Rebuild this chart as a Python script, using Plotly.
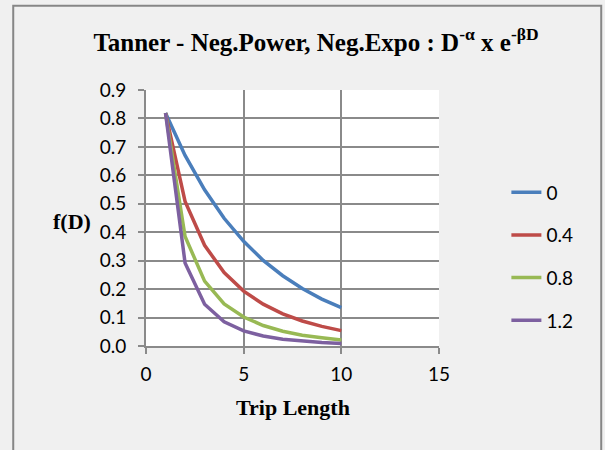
import plotly.graph_objects as go

# Data
trip_length = [1, 2, 3, 4, 5, 6, 7, 8, 9, 10]
alpha_labels = ["0", "0.4", "0.8", "1.2"]
f_alpha_0 = [0.819, 0.670, 0.549, 0.449, 0.368, 0.301, 0.247, 0.202, 0.165, 0.135]
f_alpha_04 = [0.819, 0.508, 0.354, 0.258, 0.193, 0.147, 0.113, 0.088, 0.069, 0.054]
f_alpha_08 = [0.819, 0.385, 0.228, 0.148, 0.102, 0.072, 0.052, 0.038, 0.029, 0.021]
f_alpha_12 = [0.819, 0.292, 0.147, 0.085, 0.053, 0.035, 0.024, 0.017, 0.012, 0.009]
series_values = [f_alpha_0, f_alpha_04, f_alpha_08, f_alpha_12]
colors = ["#4A7EBB", "#BE4B48", "#98B954", "#7D60A0"]

W, H = 605, 450
L, R, T, B = 146, 439.5, 89.5, 346
grid = "#8a8a8a"

fig = go.Figure()
for name, vals, c in zip(alpha_labels, series_values, colors):
    fig.add_trace(go.Scatter(
        x=trip_length, y=vals, name=name, mode="lines",
        line=dict(color=c, width=3.5), legendgroup=name,
    ))

def px_x(p):
    return (p - L) / (R - L)

def px_y(p):
    return (B - p) / (B - T)

serif = "Liberation Serif, Times New Roman, serif"

fig.update_layout(
    width=W, height=H,
    margin=dict(l=L, r=W - R, t=T, b=H - B, pad=0),
    paper_bgcolor="#f0f0f0",
    plot_bgcolor="#ffffff",
    font=dict(family="Lato, Open Sans, sans-serif", size=19, color="#000000"),
    title=dict(
        text="<b>Tanner - Neg.Power, Neg.Expo : D<sup>-α</sup> x e<sup>-βD</sup></b>",
        font=dict(family=serif, size=25, color="#000000"),
        x=316 / W, xanchor="center", xref="container",
        y=1 - 42 / H, yanchor="middle", yref="container",
    ),
    xaxis=dict(
        range=[0, 15], dtick=5, tick0=0,
        showgrid=True, gridcolor=grid, gridwidth=2,
        showline=True, linecolor=grid, linewidth=2,
        zeroline=False,
        ticks="outside", ticklen=6, tickcolor=grid, tickwidth=2,
        tickfont=dict(size=19), ticklabelstandoff=4,
    ),
    yaxis=dict(
        range=[0, 0.9], dtick=0.1, tick0=0, tickformat=".1f",
        showgrid=True, gridcolor=grid, gridwidth=2,
        showline=True, linecolor=grid, linewidth=2,
        zeroline=False,
        ticks="outside", ticklen=6, tickcolor=grid, tickwidth=2,
        tickfont=dict(size=19), ticklabelstandoff=8,
    ),
    legend=dict(
        x=px_x(507), xanchor="left", y=px_y(173), yanchor="top",
        bgcolor="rgba(0,0,0,0)", borderwidth=0,
        font=dict(size=19), tracegroupgap=15,
    ),
    showlegend=True,
    annotations=[
        dict(text="<b>f(D)</b>", x=px_x(72), y=px_y(221), xref="paper", yref="paper",
             showarrow=False, xanchor="center", yanchor="middle",
             font=dict(family=serif, size=22)),
        dict(text="<b>Trip Length</b>", x=px_x(293), y=px_y(408), xref="paper", yref="paper",
             showarrow=False, xanchor="center", yanchor="middle",
             font=dict(family=serif, size=22)),
    ],
    shapes=[
        dict(type="rect", xref="paper", yref="paper",
             x0=px_x(13), x1=px_x(602), y0=px_y(470), y1=px_y(5),
             line=dict(color="#868686", width=2), fillcolor="rgba(0,0,0,0)", layer="below"),
    ],
)

fig.write_html("out.html")
